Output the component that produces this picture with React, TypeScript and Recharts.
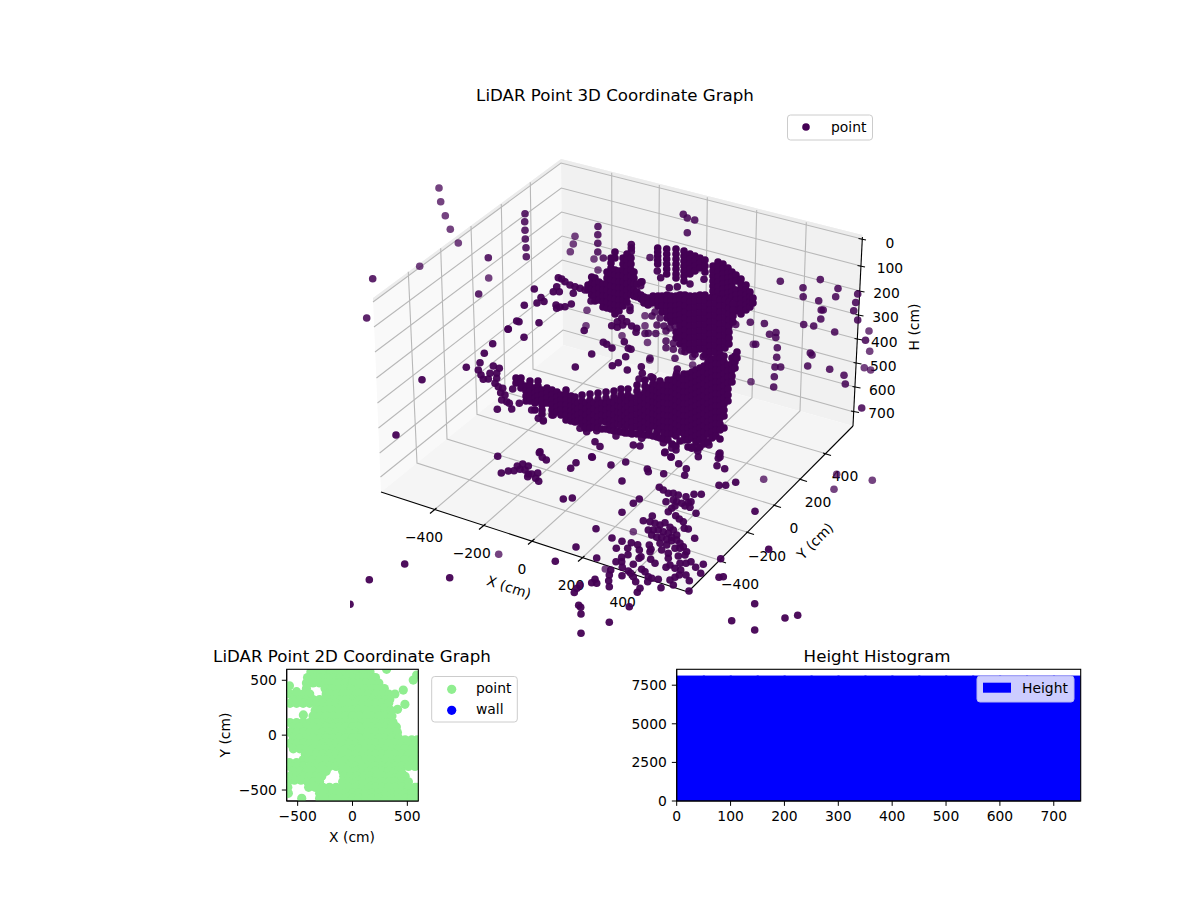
// @ts-nocheck
import {
  Bar,
  BarChart,
  Scatter,
  ScatterChart,
  XAxis,
  YAxis,
} from "recharts";

const FONT = '"DejaVu Sans", sans-serif';
const PURPLE = "#440154";

// 3D cloud in projected (u, v) form
const faintPoints = [
  [439, 188], [440.7, 201.7], [445.3, 215.7], [450.3, 229.3], [419.7, 266.3], [488.7, 278], [587, 310.3],
  [586, 325.7], [594, 259], [598, 270], [622, 335.7], [645, 315.7], [645, 325.7], [647.5, 342.5], [649.7, 360],
  [692.7, 365], [681.7, 295.3], [753.3, 344.3], [751, 381.7], [869, 331], [763.7, 479.3], [836.7, 474.3],
  [834, 489.3], [872.3, 480.3], [605.3, 569], [633.3, 531.7], [498.7, 554.3], [543.3, 420], [869.7, 351.3],
  [864.3, 367.7], [870.7, 370], [575, 236.3], [573.3, 244], [570.3, 251.7], [458.3, 243],
];
const midPoints = [
  [488.3, 257.7], [525, 213.7], [524.7, 221.7], [525, 230.3], [525.3, 239], [526, 247.7], [526.3, 256.7],
  [598, 226.5], [597.8, 234.8], [597.8, 243.3], [597.8, 252], [603.3, 258], [683.3, 214.3], [687.3, 218],
  [694.7, 220], [687.3, 232.7], [650, 257.5], [780.3, 281.3], [803, 287.8], [803.2, 296.8], [820.3, 279.6],
  [838, 288.5], [835.7, 296.7], [818.7, 300.8], [821.2, 310], [823.2, 310], [820.8, 319], [803.7, 324.5],
  [813.7, 326], [834.7, 332], [857.7, 294], [855.7, 302.5], [853.7, 310.7], [857.7, 320], [865.5, 340.2],
  [764.4, 323.5], [750.3, 322.3], [735.7, 324.5], [769.5, 334.3], [776, 332.5], [775.8, 337.5], [755.7, 344.3],
  [777.3, 347.7], [776.7, 357.3], [775, 367], [780.7, 367], [774.3, 376.7], [773.7, 387], [810.3, 353],
  [812, 355], [807.7, 366], [829.7, 369.3], [844, 375.3], [845.3, 384], [861.7, 408], [645, 333.5], [648.3, 333.3],
  [655.8, 333.5], [666, 331], [666, 341], [666, 347.7], [673.4, 343.3], [673.3, 349.3], [681.7, 351], [692.7, 356.7],
  [675, 358.2], [650, 358.3], [372.7, 278.7], [366.7, 318], [478.7, 294],
  [655, 312], [660, 318], [652, 316], [664, 326], [670, 328], [657, 325], [675, 326],
];
const solidPoints = [
  // top left strays and left arm
  [534.3, 289], [524.3, 305.3], [541, 297.5], [537, 303], [544, 301.5], [516.7, 321], [519, 321.7], [539, 322.7],
  [508.3, 329], [584.2, 330.5], [558.3, 277.7], [561.7, 279], [556.7, 286.7], [553.3, 291.7], [559.3, 291.7],
  [565, 281.7], [570, 285], [575, 286.7], [580, 288.3], [585, 290], [573.3, 293.3], [556, 305], [556.7, 308.3],
  [560, 307], [565, 306.7], [571.3, 304], [591, 301], [631.3, 244.5], [631.3, 248], [631.3, 251.5],
  // lower band tail, far left
  [422, 379.7], [396, 435], [466.3, 367.3], [484.3, 353.3], [492.7, 343.7], [508, 329.3], [524, 337.3], [480, 362.7],
  [478.3, 370], [481, 375], [483.3, 379.3], [488.3, 379], [490, 373.3], [493.3, 366], [499.3, 368.3], [496.7, 373.3],
  [496.7, 378.3], [495, 383.3], [498.3, 386.7], [502.7, 388.3], [500.7, 392.7], [505, 395], [501.7, 400], [506.7, 401.7],
  [509.3, 403.3], [511.7, 409], [497.3, 409.3], [512.7, 389], [519.3, 403.3], [531.7, 410], [538.3, 418.3],
  [543.3, 421], [553.3, 415], [573.3, 420], [580, 428.3], [586.7, 431.7], [596.7, 430.7], [595, 441.7], [600, 446.5],
  // strays under the arm
  [603.3, 342.3], [606.7, 344.3], [612, 348], [591.7, 354], [575.3, 367], [611.7, 325.7], [617.3, 327.3], [622.7, 325],
  [624.3, 341.7], [628.3, 348.3], [631, 349.3], [625.7, 356.7], [618.3, 362.7], [612.3, 365.7], [627.3, 370],
  [641.3, 366.7], [642.3, 373.3], [639, 379], [651, 376.7], [631.7, 326], [636.7, 328.3], [636, 332.3], [617.3, 321.7],
  [621.7, 318.3], [626.7, 321.7], [630, 307], [630, 310.5], [677.3, 369], [676.7, 373.3], [685, 351.7], [695, 354.3],
  [703.3, 356.7], [657.3, 271], [660.7, 277.7], [669.3, 287.7], [677.3, 286.7], [690, 284], [704, 279.3], [642, 281.7],
  [640.7, 285.7],
  // under the band
  [540, 451.7], [591.7, 456.7], [663.3, 442.7], [671.7, 448], [665, 452], [671, 456.7], [696.7, 448.3], [691.7, 448.3],
  [709, 445], [720, 453], [720, 457], [641.7, 438.3], [633.3, 445], [640, 446], [616, 436], [585, 428.3], [590, 427.3],
  // floor, left group
  [497.7, 456.3], [539.3, 452.7], [542.3, 457.3], [546.3, 460], [501.3, 473], [508.3, 471], [514, 470.7], [517.3, 466],
  [520, 469.3], [522.7, 464], [528.3, 466], [525, 470], [528.3, 474], [531.7, 474], [527.7, 476.7], [537.7, 473],
  [535.7, 478.3], [538.7, 481.3], [563.3, 499], [572.3, 498], [570.7, 468.3], [576, 462.7], [576, 547], [555.3, 561.3],
  [404.7, 564], [369.3, 579.7], [449.7, 577.7], [350, 604.3], [574.3, 592.5], [577, 588.3], [580, 585], [578.7, 605.3],
  [580.7, 607.3], [581, 614], [581, 633.3],
  // floor, strays
  [592.3, 457.3], [611, 465], [625.7, 462], [622, 481], [647.3, 469], [648.3, 471.7], [663.7, 473.7], [664.7, 452.7],
  [676, 450], [671, 457.3], [678.7, 463.7], [686.3, 468.7], [684.7, 475.3], [698.3, 456.7], [697.7, 451], [719, 454],
  [718.3, 458.3], [717, 465.7], [724.7, 468.7], [719, 485.3], [725.7, 485.3], [735.7, 482.3], [755, 511.3], [768.7, 549.3],
  [754.7, 603.7], [731.7, 620.7], [754.7, 630], [785, 618], [797.7, 615.3], [622, 512.3], [633.3, 503.3], [639.3, 499],
  [643.3, 520.7], [596, 528.7], [612, 538], [596.7, 558], [609.3, 622.3], [629.3, 606.7],
  // floor, top patch
  [659.3, 487.3], [663.3, 490], [668.3, 493.3], [673.3, 493.3], [678.3, 495], [686, 496.7], [694, 494.3], [701.3, 494.3],
  [666, 501.7], [673.3, 500], [676.7, 501.7], [681.7, 503.3], [688.3, 502.7], [691, 501.7], [685, 506], [690, 507.3],
  [675, 506], [671.7, 508.3], [668.3, 511.7], [696, 513.3],
  // floor, main patch
  [652.3, 516], [675.7, 515.7], [679.3, 519], [683.3, 521.7], [684.3, 528.3], [688.3, 529], [694.7, 538.3], [650, 521.7],
  [655, 523.3], [660, 525], [665, 522.7], [670, 527.3], [673.3, 530], [676.7, 535], [648.3, 530], [653.3, 530], [658.3, 530],
  [663.3, 531.7], [668.3, 533.3], [671.7, 537.3], [676.7, 540], [680, 543.3], [651.7, 535], [656.7, 537.3], [661.7, 537.3],
  [666.7, 539.3], [671.7, 540.7], [683.3, 546.7], [660, 543.3], [666.7, 545], [675, 548.3], [680, 548.3], [686.7, 551.7],
  [661.7, 550], [668.3, 553.3], [678.3, 556], [685, 555], [668.3, 558.3],
  // floor, front scatter
  [622, 541.3], [631.3, 542.7], [616.3, 548.3], [627.7, 548.3], [637.7, 544.7], [639.3, 550], [628, 554.7], [649.3, 545],
  [651, 549.3], [650, 551.7], [641, 556.7], [639, 558.3], [650.7, 559.3], [655, 563.3], [616, 561.7], [621.7, 557.3],
  [621.7, 561.7], [633.3, 564.3], [622.3, 567.3], [610.7, 570], [609.3, 575], [622, 575.7], [628.3, 571], [641.7, 569.3],
  [645, 571.7], [630.7, 573.3], [633.3, 576.7], [635.7, 581.7], [648.3, 576.7], [647.7, 581.7], [651.7, 578.3], [658.3, 579.3],
  [661, 587.7], [670, 565], [666, 567.3], [675, 568.3], [680, 563.3], [680.7, 570], [686, 563.3], [691, 561.7], [695.7, 567.3],
  [703.3, 564.3], [700.7, 573.3], [679.3, 575], [686, 575], [675, 577.3], [670, 580], [673.3, 585], [689.3, 580.7], [689, 591],
  [720.7, 558.7], [719, 577.3], [723.3, 576.7], [640, 588.3], [637.3, 592.3], [608.7, 580.7], [609.3, 586.7], [595, 579.3],
  [596.7, 583.3], [591.7, 582.7],
];

// solid masses: first number is u, the rest are v values stacked in that column
const denseColumns = [
  // arm blob
  [588, 285, 290], [591.7, 277, 283, 289, 295], [595, 278, 284, 290, 296, 301], [599, 282, 288, 294, 300],
  [603, 284, 290, 296, 302, 307], [607, 272, 278, 284, 290, 296, 302, 308],
  [611, 258, 263, 268, 274, 280, 286, 292, 298, 304, 309], [615, 252, 258, 270, 275, 281, 287, 293, 299, 305, 311, 314],
  [619, 271, 276, 282, 288, 294, 300, 306, 311], [623, 258, 264, 270, 276, 282, 288, 294, 300, 306],
  [627, 254, 260, 266, 272, 278, 284, 290, 296, 302], [631, 258, 264, 270, 276, 282, 288, 294], [634, 272, 278, 284, 290, 296],
  [637, 284, 292, 297], [641, 282, 295, 299], [644, 297, 303], [648, 299, 305], [652, 303],
  // top stacks
  [657.7, 248, 252, 256, 260, 264], [666.7, 249, 254, 259, 264, 269, 274], [676, 249, 254, 259, 264, 269, 274, 278],
  [684, 251, 256, 261, 266, 271, 276, 281], [690, 254, 259, 264, 269, 274], [695, 256, 261, 266, 271], [700, 258, 263, 268],
  [705, 260, 266, 272],
  // right column
  [713, 266, 271, 276, 281, 286, 291, 296], [718, 262, 267, 272, 277, 282, 287, 292, 297], [723, 264, 269, 274, 279, 284, 289, 294, 299],
  [728, 268, 273, 278, 283, 288, 293, 298], [732, 272, 277, 282, 287, 292, 297], [736, 275, 281, 290, 295, 300, 305, 311],
  [741, 279, 284, 289, 294, 299, 304, 309, 314], [746, 285, 290, 295, 300, 305, 310], [750, 292, 297, 302, 307], [753, 298, 303],
  // middle shelf
  [643, 300], [648, 298, 304], [653, 296, 302], [658, 296, 301, 306], [662, 296, 301, 306, 312], [667, 295, 300, 306, 312, 318],
  [671, 296, 301, 306, 311, 316, 322], [676, 296, 301, 306, 311, 316, 321, 332, 338],
  [680, 295, 300, 305, 310, 315, 320, 326, 332, 338, 344], [685, 295, 300, 306, 312, 318, 324, 330, 336, 342, 347],
  [690, 296, 302, 308, 314, 320, 326, 332, 338, 344, 350], [695, 296, 302, 308, 314, 320, 326, 332, 338, 344, 350],
  [700, 295, 301, 307, 313, 319, 325, 331, 337, 343, 349], [705, 295, 301, 307, 313, 319, 325, 331, 337, 343, 349, 355],
  [710, 298, 304, 310, 316, 322, 328, 334, 340, 346, 352, 358], [715, 298, 304, 310, 316, 322, 328, 334, 340, 346, 352],
  [720, 300, 306, 312, 318, 324, 330, 336, 342, 348, 354], [725, 300, 306, 312, 318, 324, 330, 336, 342, 348],
  [729, 302, 308, 314, 320, 326, 332, 338, 344], [733, 304, 310, 316, 322],
  // lower band, left side
  [516, 378, 383], [521, 378, 383, 388], [526, 386, 391, 396, 401], [530, 381, 386, 391, 396, 401], [535, 388, 393, 398, 403, 410],
  [538, 381, 386, 391, 396, 401], [542, 390, 395, 400, 405, 410, 414], [547, 388, 393, 398, 403], [552, 390, 395, 400, 405, 410, 415],
  [557, 392, 397, 402, 407, 412], [561, 395, 400, 405, 410, 415], [566, 390, 395, 400, 405, 410, 415, 420],
  [571, 396, 401, 406, 411, 416, 421], [575, 397, 402, 407, 412, 417, 422], [578, 403, 409, 415, 421],
  // lower band, striped top
  [582, 395, 401, 407, 413, 419, 424], [586, 403, 409, 415, 421, 427], [590, 394, 400, 406, 412, 418, 424, 428],
  [594, 403, 409, 415, 421, 427], [598, 393, 399, 405, 411, 417, 423, 428], [602, 403, 409, 415, 421, 429],
  [606, 392, 398, 404, 410, 416, 422, 429], [610, 402, 408, 414, 420, 425, 430], [614, 391, 397, 403, 409, 415, 421, 426, 431],
  [618, 400, 406, 412, 418, 424, 431], [621, 389, 395, 401, 407, 413, 419, 425, 432], [625, 398, 404, 410, 416, 422, 428, 433],
  [628, 389, 395, 401, 407, 413, 419, 425, 433], [632, 398, 404, 410, 416, 422, 428, 434],
  [637, 385, 391, 397, 403, 409, 415, 421, 427, 434], [641, 395, 401, 407, 413, 419, 425, 430, 434],
  [645, 380, 386, 392, 398, 404, 410, 416, 422, 428, 435], [649, 388, 394, 400, 406, 412, 418, 424, 430, 435],
  [653, 378, 384, 390, 396, 402, 408, 414, 420, 426, 436], [657, 385, 391, 397, 403, 409, 415, 421, 427, 432, 437],
  [660, 381, 387, 393, 399, 405, 411, 417, 423, 429, 438], [664, 385, 391, 397, 403, 409, 415, 421, 427, 433, 439],
  [668, 380, 386, 392, 398, 404, 410, 416, 422, 428, 434, 440], [672, 380, 386, 392, 398, 404, 410, 416, 422, 428, 434, 444],
  [676, 376, 382, 388, 394, 400, 406, 412, 418, 424, 430, 436, 446], [680, 378, 384, 390, 396, 402, 408, 414, 420, 426, 432, 441],
  [684, 374, 380, 386, 392, 398, 404, 410, 416, 422, 428, 434, 440], [688, 374, 380, 386, 392, 398, 404, 410, 416, 422, 428, 434, 440, 447],
  [692, 372, 378, 384, 390, 396, 402, 408, 414, 420, 426, 432, 438, 447], [696, 370, 376, 382, 388, 394, 400, 406, 412, 418, 424, 430, 436, 442],
  [700, 368, 374, 380, 386, 392, 398, 404, 410, 416, 422, 428, 434, 440, 447], [704, 366, 372, 378, 384, 390, 396, 402, 408, 414, 420, 426, 432, 438, 444],
  [708, 362, 368, 374, 380, 386, 392, 398, 404, 410, 416, 422, 428, 434, 442], [712, 360, 366, 372, 378, 384, 390, 396, 402, 408, 414, 420, 426, 432, 438],
  [716, 358, 364, 370, 376, 382, 388, 394, 400, 406, 412, 418, 424, 430, 436], [720, 358, 364, 370, 376, 382, 388, 394, 400, 406, 412, 418, 424, 430, 439],
  [724, 356, 362, 368, 374, 380, 386, 392, 398, 404, 410, 416, 428], [728, 365, 371, 377, 383, 389, 395, 401], [732, 358, 364, 370, 376, 382],
  [735, 356, 362, 368], [737, 352, 358],
];

// box of the 3D plot
const leftWall = [[373, 298], [561, 159], [563, 345], [381, 492]];
const rightWall = [[561, 159], [862.4, 235], [853, 426], [563, 345]];
const floorPane = [[381, 492], [563, 345], [853, 426], [688, 592]];
const topBand = [[373, 298], [561, 159], [862.4, 235], [862, 239], [561, 163], [373, 302]];

const gridLines = [
  // H rings
  [[373, 302], [561, 163], [862, 239]], [[374, 327], [561.3, 188], [861, 266]], [[375, 352], [561.6, 212], [860, 291]],
  [[376.5, 378], [562, 236], [859, 315]], [[377.5, 403], [562.2, 260], [857.5, 339]], [[378.5, 428], [562.5, 283], [856, 363]],
  [[379.7, 453], [562.7, 307], [855, 387]], [[380.5, 477], [563, 330], [854, 412]],
  // left wall uprights, continuing across the floor
  [[408.3, 271.7], [417, 463], [722, 561]], [[440.7, 248.3], [447, 439], [750, 533]], [[471, 226], [477, 414.4], [777, 506]],
  [[501.3, 204], [505, 392], [803, 480]], [[530.3, 182.3], [533, 369], [827, 454]],
  // right wall uprights, continuing across the floor
  [[611.7, 172.7], [612, 358.7], [433, 511]], [[659.3, 185], [658, 371.5], [482, 527]], [[707.3, 197.3], [705, 384.6], [531, 542]],
  [[756.7, 210], [752, 397.7], [581, 559]], [[806.3, 222.3], [800, 411], [632, 575]],
];
const axisLines = [
  [[381, 492], [688, 592]], [[688, 592], [853, 426]], [[862.4, 237], [853, 426]],
  // x ticks
  [[430, 513.5], [436.5, 508]], [[479, 529.5], [485.5, 524]], [[528, 544.5], [534.5, 539]], [[578, 561.5], [584.5, 556]], [[629, 577.5], [635.5, 572]],
  // y ticks
  [[718, 560], [726, 563]], [[746, 532], [754, 534.5]], [[773, 505], [781, 507.5]], [[799, 479], [807, 481.5]], [[823, 453], [831, 455.5]],
  // h ticks
  [[858.5, 238.5], [866, 240]], [[857.5, 265.5], [865, 267]], [[856.5, 290.5], [864.5, 292]], [[855.5, 314.5], [863.5, 316]],
  [[854.5, 338.5], [862.5, 340]], [[853.5, 362.5], [861.5, 364]], [[852.5, 386.5], [860.5, 388]], [[851, 411], [859, 412.5]],
];

const xTickLabels3d = [["\u2212400", 424, 537], ["\u2212200", 471.7, 553], ["0", 522, 569], ["200", 571, 585], ["400", 622.7, 602]];
const yTickLabels3d = [["400", 845, 476], ["200", 818, 502], ["0", 794, 528], ["\u2212200", 767, 556], ["\u2212400", 740, 584]];
const hTickLabels3d = [
  ["0", 885.5, 243], ["100", 876.7, 268], ["200", 873.3, 293], ["300", 872.3, 317],
  ["400", 871, 342], ["500", 870, 366], ["600", 869, 390], ["700", 868.3, 413],
];

// 2D map: first number of each row is Y (cm), the rest are X (cm)
const mapRows = [
  [600, 311],
  [575, -380, -320, -260, -200, -140, -80, -20, 40, 100, 160],
  [548, 585],
  [525, -410, -350, -290, -230, -170, -110, -50, 10, 70, 130, 190, 210],
  [502, 554],
  [475, -420, -360, -300, -240, -180, -120, -60, 0, 60, 120, 180, 240],
  [450, -575],
  [425, -420, -250, -190, -130, -70, -10, 50, 110, 170, 230, 290],
  [411, 463],
  [396, -510],
  [375, -570, -510, -450, -390, -240, -210, -150, -90, -30, 30, 90, 150, 210, 270, 330, 387],
  [325, -540, -480, -420, -360, -300, -240, -180, -120, -60, 0, 60, 120, 180, 240, 300, 340],
  [281, 478],
  [290, -570, -510, -450, -390, -330, -270, -210, -150, -90, -30, 30, 90, 150, 210, 270, 330],
  [235, 411],
  [225, -340, -290, -240, -180, -120, -60, 0, 60, 120, 180, 240, 300, 350],
  [184, -448],
  [175, -360, -300, -240, -180, -120, -60, 0, 60, 120, 180, 240, 300, 360],
  [115, -570, -510, -450, -390, -330, -270, -210, -150, -90, -30, 30, 90, 150, 210, 270, 330, 370],
  [75, -540, -480, -420, -360, -300, -240, -180, -120, -60, 0, 60, 120, 180, 240, 300, 360, 400],
  [25, -570, -510, -450, -390, -330, -270, -210, -150, -90, -30, 30, 90, 150, 210, 270, 330, 390, 410],
  [-25, -540, -480, -420, -360, -300, -240, -180, -120, -60, 0, 60, 120, 180, 240, 300, 360, 420],
  [-42, 480, 540, 590],
  [-75, -570, -510, -450, -390, -330, -270, -210, -150, -90, -30, 30, 90, 150, 210, 270, 330, 390, 450, 510, 570],
  [-125, -540, -480, -420, -360, -300, -240, -180, -120, -60, 0, 60, 120, 180, 240, 300, 360, 420, 480, 540, 590],
  [-175, -430, -390, -330, -270, -210, -150, -90, -30, 30, 90, 150, 210, 270, 330, 390, 450, 510, 570],
  [-225, -450, -400, -360, -300, -240, -180, -120, -60, 0, 60, 120, 180, 240, 300, 360, 420, 480, 540, 590],
  [-250, -575, -510],
  [-285, -570, -510, -450, -390, -330, -270, -210, -150, -90, -30, 30, 90, 150, 210, 270, 330, 390, 450, 510, 570],
  [-330, -540, -480, -420, -360, -300, -240, -90, -30, 30, 90, 150, 210, 270, 330, 390, 420],
  [-345, 450],
  [-375, -570, -510, -450, -390, -330, -280, -80, -20, 40, 100, 160, 220, 280, 340, 400, 430, 480],
  [-410, -530, -470],
  [-425, -590, -410, -350, -300, -90, -30, 30, 90, 150, 210, 270, 330, 390, 450, 510],
  [-475, -590, -400, -340, -270, -210, -150, -90, -30, 30, 90, 150, 210, 270, 330, 390, 450, 510, 570, 590],
  [-530, -585, -300, -240, -180, -120, -60, 0, 60, 120, 180, 240, 300, 360, 420, 480, 540, 590],
  [-575, -463, -300, -240, -180, -120, -60, 0, 60, 120, 180, 240, 300, 360, 420, 480, 540, 590],
];
const wallPoints = [];

// histogram
const heightBins = [25, 75, 125, 175, 225, 275, 325, 375, 425, 475, 525, 575, 625, 675, 725];
const heightCounts = [8125, 8125, 8125, 8125, 8125, 8125, 8125, 8125, 8125, 8125, 8125, 8125, 8125, 8125, 8125];
const heightTicks = [0, 100, 200, 300, 400, 500, 600, 700];
const countTicks = [0, 2500, 5000, 7500];
const mapTicks = [-500, 0, 500];

const pairsToRows = (pairs) => pairs.map(([x, y]) => ({ x, y }));
const densePoints = denseColumns.flatMap(([x, ...ys]) => ys.map((y) => ({ x, y })));
const mapPoints = mapRows.flatMap(([y, ...xs]) => xs.map((x) => ({ x, y })));
const histData = heightBins.map((bin, i) => ({ bin, count: heightCounts[i] }));

const minus = (v) => String(v).replace("-", "\u2212");
const dot = (opacity) => (p) => <circle cx={p.cx} cy={p.cy} r={3.8} fill={PURPLE} fillOpacity={opacity} />;
const noMark = () => <g />;
const fillShape = (fill) => (p) => (
  <polygon points={p.points.map((q) => `${q.x},${q.y}`).join(" ")} fill={fill} stroke="none" />
);
// each histogram bar is widened so neighbours touch, as they do in the source
const histBar = (p) => <rect x={p.x - 3.5} y={p.y} width={p.width + 7} height={p.height} fill="#0000ff" />;

const axisTick = { fontSize: 13.89, fontFamily: FONT, fill: "#000" };

const Label = ({ x, y, children, anchor = "middle", size = 13.89, rotate = 0 }) => (
  <text
    x={x}
    y={y}
    textAnchor={anchor}
    dominantBaseline="central"
    fontSize={size}
    fontFamily={FONT}
    fill="#000"
    transform={rotate ? `rotate(${rotate} ${x} ${y})` : undefined}
  >
    {children}
  </text>
);

export default function App() {
  return (
    <div style={{ position: "absolute", left: 0, top: 0, width: 1200, height: 900, background: "#fff", overflow: "hidden" }}>
      {/* labels of the 3D plot sit under its points */}
      <svg width={1200} height={900} style={{ position: "absolute", left: 0, top: 0 }}>
        <Label x={615} y={95} size={16.67}>LiDAR Point 3D Coordinate Graph</Label>
        {xTickLabels3d.concat(yTickLabels3d).map(([t, x, y]) => (
          <Label key={`${t}-${x}`} x={x} y={y}>{t}</Label>
        ))}
        {hTickLabels3d.map(([t, x, y]) => (
          <Label key={t} x={x} y={y} anchor="start">{t}</Label>
        ))}
        <Label x={509} y={587} rotate={18}>X (cm)</Label>
        <Label x={815} y={541} rotate={-45}>Y (cm)</Label>
        <Label x={914} y={327} rotate={-90}>H (cm)</Label>
        <Label x={352} y={656} size={16.67}>LiDAR Point 2D Coordinate Graph</Label>
        <Label x={877} y={656} size={16.67}>Height Histogram</Label>
        <Label x={352} y={837}>X (cm)</Label>
        <Label x={225} y={735} rotate={-90}>Y (cm)</Label>
      </svg>

      <div style={{ position: "absolute", left: 350, top: 108 }}>
        <ScatterChart width={530} height={530} margin={{ top: 0, right: 0, bottom: 0, left: 0 }}>
          <XAxis type="number" dataKey="x" domain={[350, 880]} hide />
          <YAxis type="number" dataKey="y" domain={[108, 638]} reversed hide />
          <Scatter data={pairsToRows(leftWall)} line={fillShape("#f9f9f9")} shape={noMark} isAnimationActive={false} />
          <Scatter data={pairsToRows(rightWall)} line={fillShape("#f1f1f1")} shape={noMark} isAnimationActive={false} />
          <Scatter data={pairsToRows(floorPane)} line={fillShape("#f5f5f5")} shape={noMark} isAnimationActive={false} />
          <Scatter data={pairsToRows(topBand)} line={fillShape("#ececec")} shape={noMark} isAnimationActive={false} />
          {gridLines.map((seg, i) => (
            <Scatter key={`g${i}`} data={pairsToRows(seg)} line={{ stroke: "#b8b8b8", strokeWidth: 1.1 }} shape={noMark} isAnimationActive={false} />
          ))}
          {axisLines.map((seg, i) => (
            <Scatter key={`a${i}`} data={pairsToRows(seg)} line={{ stroke: "#000", strokeWidth: 1.1 }} shape={noMark} isAnimationActive={false} />
          ))}
          <Scatter data={pairsToRows(faintPoints)} shape={dot(0.74)} isAnimationActive={false} />
          <Scatter data={pairsToRows(midPoints)} shape={dot(0.86)} isAnimationActive={false} />
          <Scatter data={pairsToRows(solidPoints)} shape={dot(0.95)} isAnimationActive={false} />
          <Scatter data={densePoints} shape={dot(1)} isAnimationActive={false} />
        </ScatterChart>
      </div>

      {/* 2D map */}
      <div style={{ position: "absolute", left: 216, top: 660 }}>
        <ScatterChart width={220} height={170} margin={{ top: 9.3, right: 17.7, bottom: 0, left: 0 }}>
          <XAxis type="number" dataKey="x" domain={[-600, 600]} ticks={mapTicks} allowDataOverflow height={29} interval={0}
            tick={axisTick} tickFormatter={minus} tickSize={4.86} tickMargin={5} stroke="#000" />
          <YAxis type="number" dataKey="y" domain={[-600, 600]} ticks={mapTicks} allowDataOverflow width={70.7} interval={0}
            tick={axisTick} tickFormatter={minus} tickSize={4.86} tickMargin={5} stroke="#000" />
          <Scatter data={mapPoints} fill="#90EE90" shape={(p) => <circle cx={p.cx} cy={p.cy} r={4.6} fill="#90EE90" />} isAnimationActive={false} />
          <Scatter data={wallPoints} fill="#0000ff" isAnimationActive={false} />
        </ScatterChart>
      </div>

      {/* histogram */}
      <div style={{ position: "absolute", left: 620, top: 660 }}>
        <BarChart width={480} height={170} data={histData} margin={{ top: 9.3, right: 19.3, bottom: 0, left: 0 }}>
          <XAxis type="number" dataKey="bin" domain={[0, 750]} ticks={heightTicks} allowDataOverflow height={29} interval={0}
            tick={axisTick} tickSize={4.86} tickMargin={5} stroke="#000" />
          <YAxis type="number" domain={[0, 8530]} ticks={countTicks} width={56.7} interval={0}
            tick={axisTick} tickSize={4.86} tickMargin={5} stroke="#000" />
          <Bar dataKey="count" fill="#0000ff" shape={histBar} isAnimationActive={false} />
        </BarChart>
      </div>

      {/* frames and legends */}
      <svg width={1200} height={900} style={{ position: "absolute", left: 0, top: 0, pointerEvents: "none" }}>
        <rect x={286.7} y={669.3} width={131.6} height={131.7} fill="none" stroke="#000" strokeWidth={1.1} />
        <rect x={676.7} y={669.3} width={404} height={131.7} fill="none" stroke="#000" strokeWidth={1.1} />

        <rect x={787.5} y={115} width={85} height={25} rx={3} fill="#fff" fillOpacity={0.8} stroke="#ccc" />
        <circle cx={806} cy={127} r={3.8} fill={PURPLE} />
        <Label x={831} y={126.5} anchor="start">point</Label>

        <rect x={431.7} y={676.5} width={85.6} height={45.5} rx={3} fill="#fff" fillOpacity={0.8} stroke="#ccc" />
        <circle cx={451.7} cy={689.3} r={4.6} fill="#90EE90" />
        <circle cx={451.7} cy={710.3} r={4.6} fill="#0000ff" />
        <Label x={476} y={688} anchor="start">point</Label>
        <Label x={476} y={708.5} anchor="start">wall</Label>

        <rect x={977} y={676} width={97} height={26} rx={3} fill="#ccccff" stroke="#b4b4f0" />
        <rect x={983} y={682.7} width={28} height={10} fill="#0000ff" />
        <Label x={1022} y={688} anchor="start">Height</Label>
      </svg>
    </div>
  );
}
